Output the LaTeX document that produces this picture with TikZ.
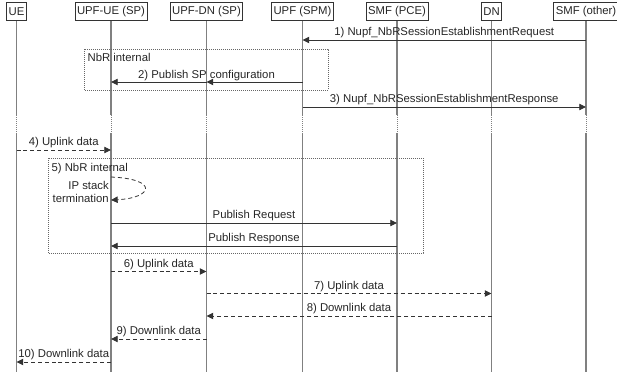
\documentclass[tikz,border=0pt]{standalone}
\usepackage{fontspec}
\setmainfont{Liberation Sans}
\usetikzlibrary{arrows.meta}

\tikzset{
  txt/.style={font=\fontsize{8.5}{9.8}\selectfont, text=black!85},
  head/.style={txt, draw=black!80, line width=0.6pt, inner xsep=1.5pt, inner ysep=0pt, minimum height=13.5pt},
  life/.style={black!50, line width=0.8pt},
  msg/.style={black!80, line width=0.6pt, -{Triangle[length=5pt,width=4.8pt]}},
  dmsg/.style={msg, dash pattern=on 3pt off 2.2pt},
  lbl/.style={txt, above, inner sep=1pt},
  frame/.style={black!60, line width=0.55pt, dash pattern=on 0.7pt off 0.8pt},
  gap/.style={life, line width=0.6pt, dash pattern=on 0.7pt off 0.8pt}
}

\begin{document}
\begin{tikzpicture}[x=0.75pt, y=-0.75pt]
    \useasboundingbox (0,0) rectangle (617,372);

    % Participants
    \node[head] (ue)    at (16.5,11.5) {UE};
    \node[head] (upfue) at (111,11.5)  {UPF-UE (SP)};
    \node[head] (upfdn) at (206.5,11.5) {UPF-DN (SP)};
    \node[head] (spm)   at (302.5,11.5) {UPF (SPM)};
    \node[head] (pce)   at (397,11.5)  {SMF (PCE)};
    \node[head] (dn)    at (491.5,11.5) {DN};
    \node[head] (other) at (586,11.5)  {SMF (other)};

    % Lifelines, broken by a dotted gap
    \coordinate (gapA) at (0,115);
    \coordinate (gapB) at (0,133);
    \coordinate (bottom) at (0,372);
    \foreach \n in {ue,upfue,upfdn,spm,pce,dn,other}{
        \draw[life] (\n.south) -- (\n |- gapA);
        \draw[gap] (\n |- gapA) -- (\n |- gapB);
        \draw[life] (\n |- gapB) -- (\n |- bottom);
    }

    % Message rows
    \coordinate (r1) at (0,40);
    \coordinate (r2) at (0,82);
    \coordinate (r3) at (0,107);
    \coordinate (r4) at (0,150);
    \coordinate (r5a) at (0,177);
    \coordinate (r5b) at (0,200);
    \coordinate (r5c) at (0,223);
    \coordinate (r5d) at (0,246);
    \coordinate (r6) at (0,271.5);
    \coordinate (r7) at (0,293.5);
    \coordinate (r8) at (0,316);
    \coordinate (r9) at (0,339);
    \coordinate (r10) at (0,362);

    % Session establishment
    \draw[msg] (other |- r1) -- node[lbl] {1) Nupf\_NbRSessionEstablishmentRequest} (spm |- r1);

    \draw[frame] (84,49) rectangle (328,90);
    \node[txt, anchor=north west, inner sep=1pt] (nbr1) at (86,52) {NbR internal};
    \draw[msg] (spm |- r2) -- (upfdn |- r2);
    \draw[msg] (upfdn |- r2) -- (upfue |- r2);
    \node[lbl] (pubsp) at (upfdn |- r2) {2) Publish SP configuration};

    \draw[msg] (spm |- r3) -- node[lbl] {3) Nupf\_NbRSessionEstablishmentResponse} (other |- r3);

    % Uplink
    \draw[dmsg] (ue |- r4) -- node[lbl] {4) Uplink data} (upfue |- r4);

    \draw[frame] (48,158) rectangle (423,253);
    \node[txt, anchor=north west, inner sep=1pt] (nbr2) at (50,161.5) {5) NbR internal};
    \draw[dmsg] (upfue |- r5a) .. controls +(48,2) and +(42,-2) .. (upfue |- r5b);
    \node[txt, anchor=east, align=right, inner sep=1.5pt] (ipstack) at (upfue |- 0,192) {IP stack\\termination};
    \draw[msg] (upfue |- r5c) -- node[lbl] {Publish Request} (pce |- r5c);
    \draw[msg] (pce |- r5d) -- node[lbl] {Publish Response} (upfue |- r5d);

    \draw[dmsg] (upfue |- r6) -- node[lbl] {6) Uplink data} (upfdn |- r6);
    \draw[dmsg] (upfdn |- r7) -- node[lbl] {7) Uplink data} (dn |- r7);

    % Downlink
    \draw[dmsg] (dn |- r8) -- node[lbl] {8) Downlink data} (upfdn |- r8);
    \draw[dmsg] (upfdn |- r9) -- node[lbl] {9) Downlink data} (upfue |- r9);
    \draw[dmsg] (upfue |- r10) -- node[lbl] {10) Downlink data} (ue |- r10);
\end{tikzpicture}
\end{document}
